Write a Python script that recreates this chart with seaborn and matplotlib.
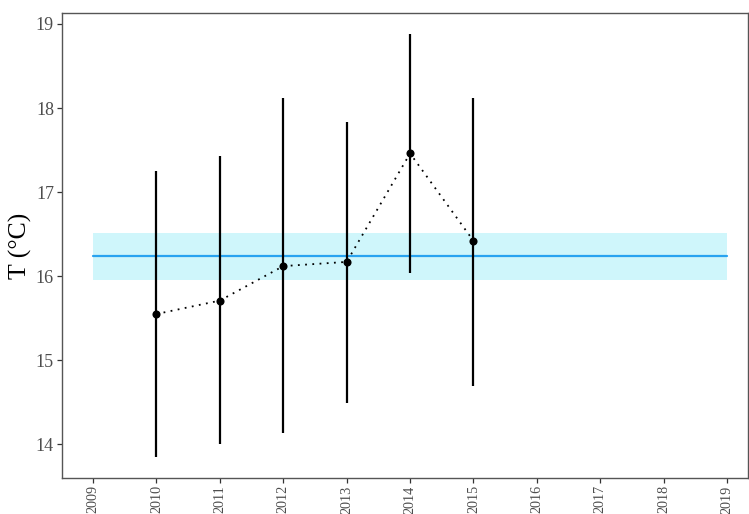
import matplotlib
matplotlib.use("Agg")
import matplotlib.pyplot as plt
import seaborn as sns
import pandas as pd

# Annual mean temperature with range, plus the long-term mean and its band
years = [2010, 2011, 2012, 2013, 2014, 2015]
t_mean = [15.55, 15.71, 16.12, 16.17, 17.46, 16.42]
t_low = [13.85, 14.01, 14.13, 14.49, 16.04, 14.70]
t_high = [17.25, 17.43, 18.12, 17.83, 18.88, 18.12]

ref_span = [2009, 2019]
ref_mean = 16.24
ref_low = 15.96
ref_high = 16.51

x_ticks = list(range(2009, 2020))
y_ticks = [14, 15, 16, 17, 18, 19]

df = pd.DataFrame({"year": years, "mean": t_mean, "low": t_low, "high": t_high})

sns.set_theme(style="white")
plt.rcParams["font.family"] = ["Liberation Serif", "DejaVu Serif"]

fig = plt.figure(figsize=(7.49, 5.14), dpi=100)
ax = fig.add_axes([62 / 749, 36 / 514, 686 / 749, 465 / 514])

# reference band and mean line
ax.fill_between(ref_span, ref_low, ref_high, color="#cff6fb", lw=0, zorder=1)
ax.plot(ref_span, [ref_mean, ref_mean], color="#29a3f0", lw=1.6, zorder=2)

# vertical ranges
ax.vlines(df["year"], df["low"], df["high"], color="black", lw=1.6, zorder=3)

# dotted connecting line and points
sns.lineplot(data=df, x="year", y="mean", ax=ax, color="black", lw=1.3,
             linestyle=(0, (1, 3)), zorder=4)
sns.scatterplot(data=df, x="year", y="mean", ax=ax, color="black", s=34,
                edgecolor="black", linewidth=0, zorder=5)

ax.set_xlim(2008.51, 2019.33)
ax.set_ylim(13.6, 19.13)
ax.set_xticks(x_ticks)
ax.set_xticklabels([str(v) for v in x_ticks], rotation=90, va="top")
ax.set_yticks(y_ticks)
ax.set_xlabel("")
ax.set_ylabel("T (°C)", fontsize=18.5, color="black", labelpad=3)

ax.tick_params(axis="both", which="both", length=3.3, width=0.9, color="#333333",
               labelcolor="#4d4d4d", direction="out", pad=2.5,
               bottom=True, left=True)
ax.tick_params(axis="x", labelsize=10.2, pad=2)
ax.tick_params(axis="y", labelsize=13)
for side in ["left", "bottom", "top", "right"]:
    ax.spines[side].set_visible(True)
    ax.spines[side].set_color("#555555")
    ax.spines[side].set_linewidth(1.0)

fig.savefig("out.png", dpi=100)
